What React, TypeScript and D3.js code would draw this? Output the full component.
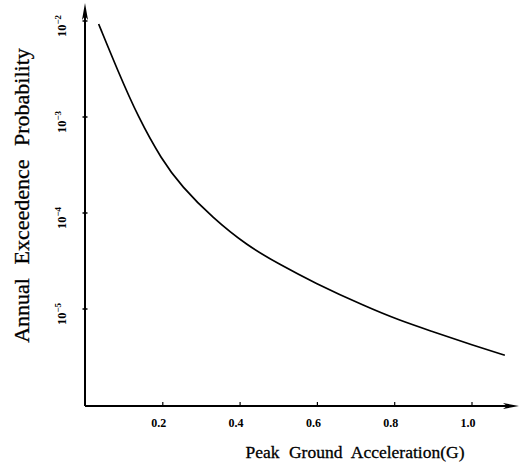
import React from "react";
import * as d3 from "d3";

const pga = [0.034, 0.084, 0.136, 0.197, 0.248, 0.33, 0.417, 0.503, 0.589, 0.727, 0.813, 0.899, 0.986, 1.085];
const prob = [9.3e-3, 3.0e-3, 1.0e-3, 3.6e-4, 1.9e-4, 8.8e-5, 4.6e-5, 2.9e-5, 1.9e-5, 1.05e-5, 7.6e-6, 5.8e-6, 4.4e-6, 3.3e-6];
const xTicks = [0.2, 0.4, 0.6, 0.8, 1.0];
const xTickLabels = ["0.2", "0.4", "0.6", "0.8", "1.0"];
const yTicks = [1e-2, 1e-3, 1e-4, 1e-5];
const yTickExponents = ["\u22122", "\u22123", "\u22124", "\u22125"];
const xTitleWords = ["Peak", "Ground", "Acceleration(G)"];
const yTitleWords = ["Annual", "Exceedence", "Probability"];

const W = 530;
const H = 475;

export default function App() {
  const x = d3.scaleLinear().domain([0, 1]).range([85.5, 472]);
  const y = d3.scaleLog().domain([1e-6, 1e-2]).range([405, 21]);
  const pts = pga.map((v, i) => [v, prob[i]] as [number, number]);
  const line = d3
    .line<[number, number]>()
    .x((d) => x(d[0]))
    .y((d) => y(d[1]))
    .curve(d3.curveBasis);
  const x0 = x(0) - 0.5;
  const yBase = 406;
  const font = "'Liberation Serif', 'Times New Roman', serif";

  return (
    <svg
      width={W}
      height={H}
      style={{ position: "absolute", left: 0, top: 0, background: "#fff" }}
      fontFamily={font}
    >
      <rect width={W} height={H} fill="#fff" />
      {/* axes */}
      <line x1={x0} y1={yBase} x2={x0} y2={14} stroke="#000" strokeWidth={2} />
      <path d={`M${x0},3 L${x0 - 3},20 L${x0},16 L${x0 + 3},20 Z`} fill="#000" />
      <line x1={x0} y1={yBase} x2={508} y2={yBase} stroke="#000" strokeWidth={2} />
      <path d={`M519,${yBase} L503,${yBase - 3} L507,${yBase} L503,${yBase + 3} Z`} fill="#000" />

      {/* x ticks */}
      {xTicks.map((t, i) => (
        <g key={t}>
          <line x1={x(t)} x2={x(t)} y1={yBase} y2={yBase - 4} stroke="#000" strokeWidth={1.2} />
          <text x={x(t) - 4} y={427} textAnchor="middle" fontSize={12} fontWeight={700}>
            {xTickLabels[i]}
          </text>
        </g>
      ))}

      {/* y ticks */}
      {yTicks.map((t, i) => (
        <g key={t}>
          <line x1={x0 - 2.5} x2={x0 + 2.5} y1={y(t)} y2={y(t)} stroke="#000" strokeWidth={1.5} />
          <text
            transform={`translate(66,${y(t) + 5}) rotate(-90)`}
            textAnchor="middle"
            fontSize={12.5}
            fontWeight={700}
          >
            10
            <tspan dy={-5} fontSize={9}>
              {yTickExponents[i]}
            </tspan>
          </text>
        </g>
      ))}

      {/* curve */}
      <path d={line(pts) || ""} fill="none" stroke="#000" strokeWidth={1.7} />

      {/* titles */}
      <text x={355} y={458} textAnchor="middle" fontSize={17.5} stroke="#000" strokeWidth={0.3}>
        {xTitleWords.map((w, i) => (
          <tspan key={w} dx={i === 0 ? 0 : 5}>
            {(i === 0 ? "" : " ") + w}
          </tspan>
        ))}
      </text>
      <text
        transform={`translate(29,195.5) rotate(-90)`}
        textAnchor="middle"
        fontSize={22}
        stroke="#000"
        strokeWidth={0.3}
      >
        {yTitleWords.map((w, i) => (
          <tspan key={w} dx={i === 0 ? 0 : 8}>
            {(i === 0 ? "" : " ") + w}
          </tspan>
        ))}
      </text>
    </svg>
  );
}
